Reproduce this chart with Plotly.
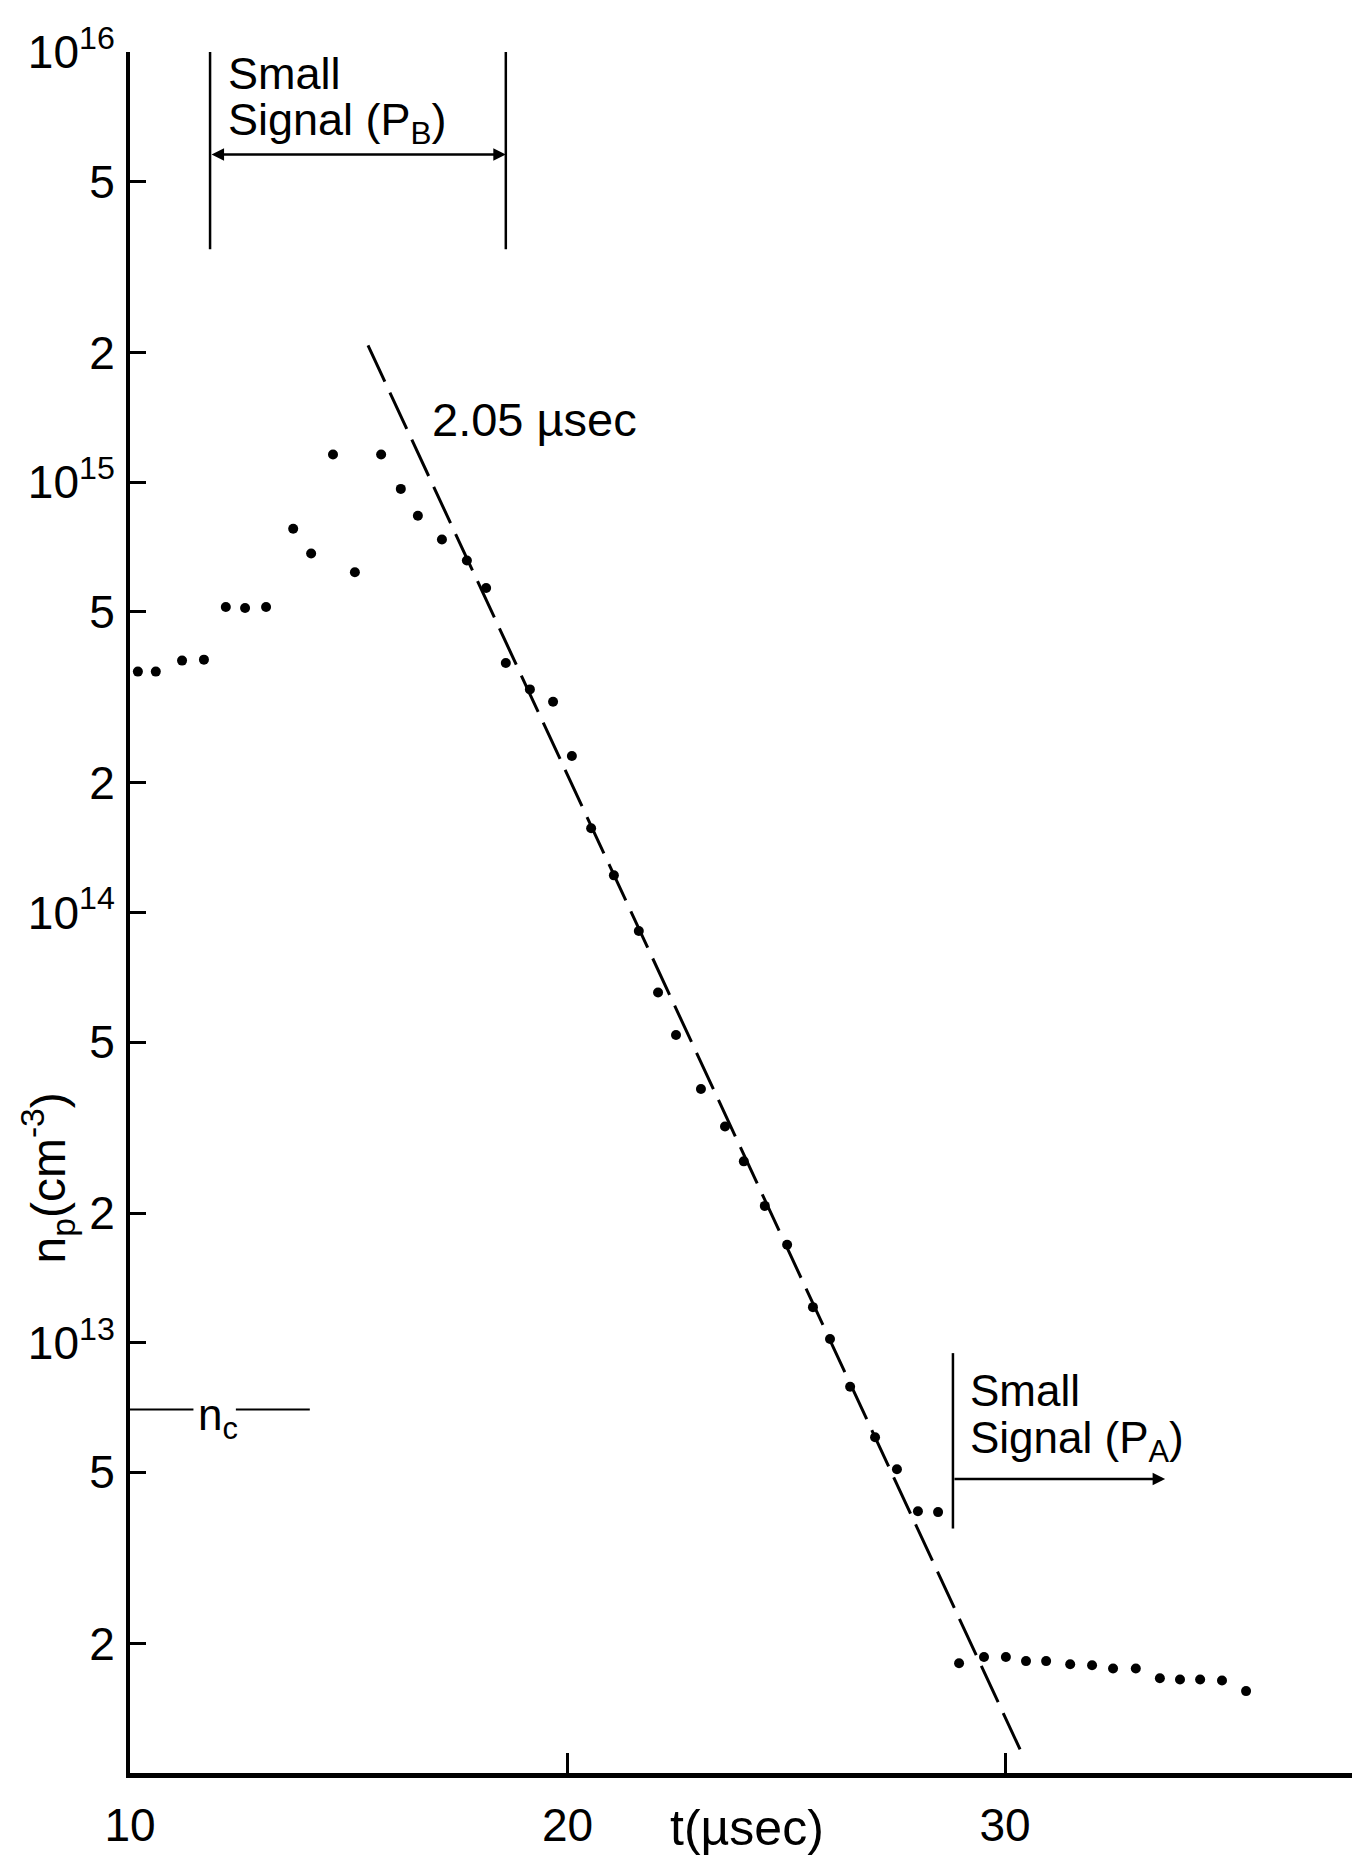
import math
import plotly.graph_objects as go

# ---------------- data ----------------
t_us = [10.18, 10.59, 11.19, 11.69, 12.19, 12.63, 13.11, 13.73, 14.14, 14.64,
        15.14, 15.74, 16.19, 16.58, 17.13, 17.70, 18.14, 18.59, 19.14, 19.67,
        20.10, 20.54, 21.06, 21.63, 22.07, 22.48, 23.05, 23.60, 24.03, 24.51,
        25.02, 25.61, 26.00, 26.46, 27.03, 27.53, 28.01, 28.47,
        28.95, 29.52, 30.02, 30.48, 30.94, 31.49, 31.99, 32.47, 32.99,
        33.54, 34.00, 34.46, 34.96, 35.51]
n_p = [3.63e14, 3.63e14, 3.85e14, 3.87e14, 5.13e14, 5.10e14, 5.13e14, 7.8e14, 6.83e14, 1.16e15,
       6.18e14, 1.16e15, 9.65e14, 8.36e14, 7.36e14, 6.58e14, 5.68e14, 3.80e14, 3.30e14, 3.09e14,
       2.31e14, 1.57e14, 1.22e14, 9.06e13, 6.52e13, 5.19e13, 3.89e13, 3.18e13, 2.64e13, 2.08e13,
       1.69e13, 1.21e13, 1.02e13, 7.9e12, 6.03e12, 5.08e12, 4.06e12, 4.04e12,
       1.80e12, 1.86e12, 1.86e12, 1.82e12, 1.82e12, 1.79e12, 1.78e12, 1.75e12, 1.75e12,
       1.66e12, 1.65e12, 1.65e12, 1.64e12, 1.55e12]

fit_t = [15.44, 30.37]
fit_n = [2.08e15, 1.12e12]
fit_label = "2.05 µsec"

y_tickvals = [1e16, 5e15, 2e15, 1e15, 5e14, 2e14, 1e14, 5e13, 2e13, 1e13, 5e12, 2e12]
y_ticktext = ["10<sup>16</sup>", "5", "2", "10<sup>15</sup>", "5", "2",
              "10<sup>14</sup>", "5", "2", "10<sup>13</sup>", "5", "2"]
x_tickvals = [10, 20, 30]
x_ticktext = ["10", "20", "30"]

# annotation anchors (data units)
pb_x = [11.83, 18.59]          # small-signal (P_B) window
pb_y = [1e16, 3.48e15]
pb_arrow_y = 5.78e15
pa_x = [28.81, 33.66]          # small-signal (P_A) start + arrow end
pa_y = [9.46e12, 3.7e12]
pa_arrow_y = 4.82e12
nc_value = 7.0e12
nc_segments = [[10, 11.45], [12.42, 14.11]]

FONT = "Liberation Sans, Arial, sans-serif"
L = math.log10  # annotations on a log axis are positioned in log10 units

fig = go.Figure()
fig.add_trace(go.Scatter(x=t_us, y=n_p, mode="markers",
                         marker=dict(color="black", size=10), showlegend=False))
fig.add_trace(go.Scatter(x=fit_t, y=fit_n, mode="lines",
                         line=dict(color="black", width=3, dash="40px,12px"), showlegend=False))

shapes = []
for xv in pb_x:
    shapes.append(dict(type="line", xref="x", yref="y", x0=xv, x1=xv, y0=pb_y[0], y1=pb_y[1],
                       line=dict(color="black", width=2.5)))
shapes.append(dict(type="line", xref="x", yref="y", x0=pa_x[0], x1=pa_x[0], y0=pa_y[0], y1=pa_y[1],
                   line=dict(color="black", width=2.5)))
for seg in nc_segments:
    shapes.append(dict(type="line", xref="x", yref="y", x0=seg[0], x1=seg[1], y0=nc_value, y1=nc_value,
                       line=dict(color="black", width=2)))

annotations = [
    dict(x=pb_x[1], y=L(pb_arrow_y), ax=pb_x[0], ay=L(pb_arrow_y), xref="x", yref="y",
         axref="x", ayref="y", text="", showarrow=True, arrowhead=2, arrowsize=1,
         arrowwidth=2.5, arrowside="end+start", arrowcolor="black"),
    dict(x=pa_x[1], y=L(pa_arrow_y), ax=pa_x[0], ay=L(pa_arrow_y), xref="x", yref="y",
         axref="x", ayref="y", text="", showarrow=True, arrowhead=2, arrowsize=1,
         arrowwidth=2.5, arrowcolor="black"),
    dict(x=12.2, y=15.949, xref="x", yref="y", text="Small", showarrow=False,
         xanchor="left", yanchor="middle", font=dict(size=45)),
    dict(x=12.2, y=15.835, xref="x", yref="y", text="Signal (P<sub>B</sub>)", showarrow=False,
         xanchor="left", yanchor="middle", font=dict(size=45)),
    dict(x=29.15, y=12.890, xref="x", yref="y", text="Small", showarrow=False,
         xanchor="left", yanchor="middle", font=dict(size=44)),
    dict(x=29.15, y=L(5.9e12), xref="x", yref="y", text="Signal (P<sub>A</sub>)", showarrow=False,
         xanchor="left", yanchor="middle", font=dict(size=44)),
    dict(x=16.85, y=15.145, xref="x", yref="y", text=fit_label, showarrow=False,
         xanchor="left", yanchor="middle", font=dict(size=47)),
    dict(x=12.0, y=L(6.7e12), xref="x", yref="y", text="n<sub>c</sub>", showarrow=False,
         xanchor="center", yanchor="middle", font=dict(size=44)),
    dict(x=-0.067, y=0.346, xref="paper", yref="paper", text="n<sub>p</sub>(cm<sup>-3</sup>)",
         textangle=-90, showarrow=False, xanchor="center", yanchor="middle", font=dict(size=48)),
    dict(x=24.1, y=-0.032, xref="x", yref="paper", text="t(µsec)", showarrow=False,
         xanchor="center", yanchor="middle", font=dict(size=50)),
]

fig.update_layout(
    width=1360, height=1855,
    margin=dict(l=122, r=13, t=43, b=79),
    paper_bgcolor="white", plot_bgcolor="white",
    font=dict(family=FONT, color="black", size=44),
    shapes=shapes, annotations=annotations,
    showlegend=False,
)
fig.update_xaxes(range=[10, 38], showgrid=False, zeroline=False, showline=True, linecolor="black",
                 linewidth=5, ticks="inside", ticklen=20, tickwidth=2.5, tickcolor="black",
                 tickvals=x_tickvals, ticktext=x_ticktext, tickfont=dict(size=46),
                 ticklabelstandoff=8)
fig.update_yaxes(type="log", range=[12, 16], showgrid=False, zeroline=False, showline=True,
                 linecolor="black", linewidth=4, ticks="inside", ticklen=16, tickwidth=3,
                 tickcolor="black", tickvals=y_tickvals, ticktext=y_ticktext,
                 tickfont=dict(size=46), ticklabelstandoff=2)

fig.write_html("out.html")
